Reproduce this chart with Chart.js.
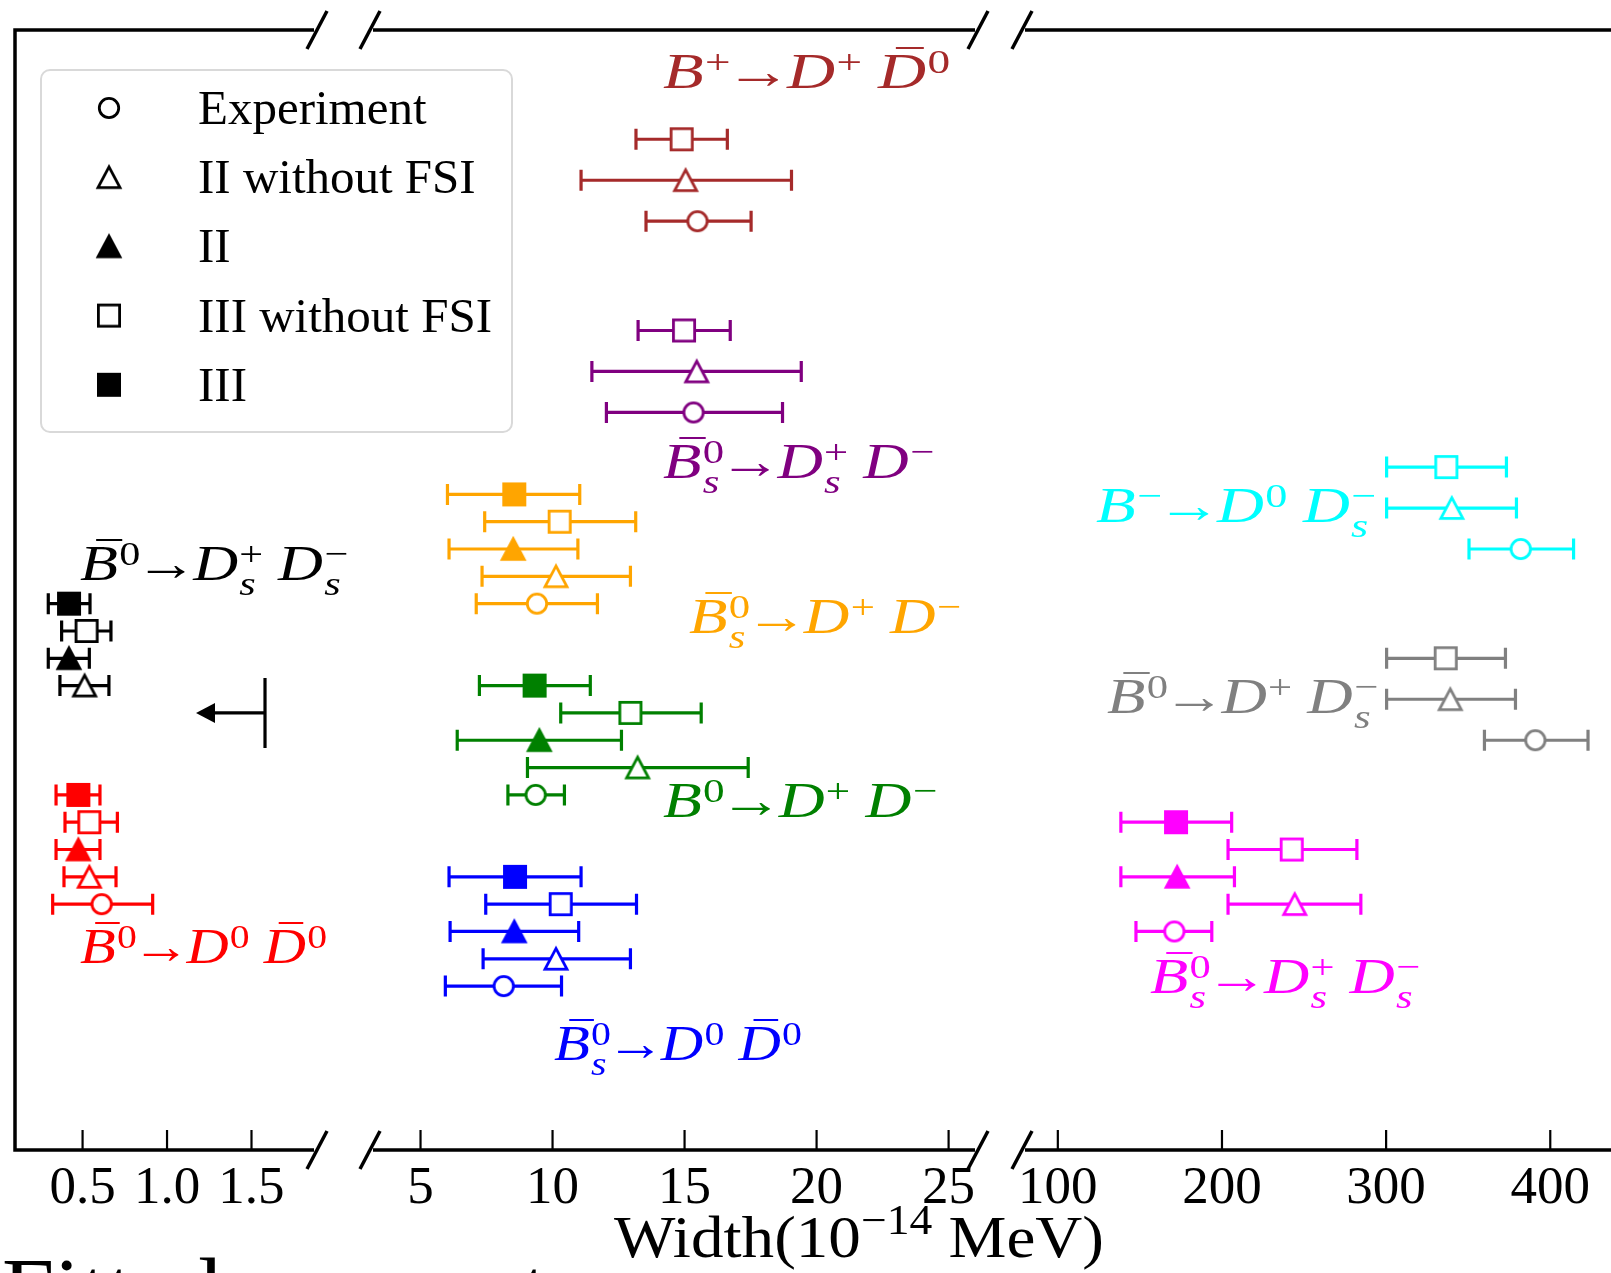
<!DOCTYPE html>
<html>
<head>
<meta charset="utf-8">
<script src="https://cdn.jsdelivr.net/npm/chart.js"></script>
<style>
html,body{margin:0;padding:0;background:#fff;}
#wrap{position:relative;width:1611px;height:1273px;overflow:hidden;background:#fff;}
#wrap canvas{position:absolute;top:0;}
.lab{position:absolute;white-space:nowrap;font-family:"Liberation Serif","Times New Roman",serif;font-size:50px;line-height:1;transform-origin:0 0;}
.b{font-style:italic;position:relative;display:inline-block;}
.bar::before{content:"";position:absolute;left:0.26em;width:0.42em;top:0.01em;border-top:0.05em solid currentColor;}
.ss{display:inline-flex;flex-direction:column;align-items:flex-start;vertical-align:0.45em;font-size:0.68em;line-height:1;margin-left:0.03em;}
.sb{font-style:italic;margin-top:-0.1em;}
.ss + .b{margin-left:0.24em;}
.ar{display:inline-block;margin:0 -0.07em 0 -0.08em;}
.title{font-size:60px;}
.title .sp{display:inline-block;font-size:0.7em;vertical-align:0.55em;}
.cap{font-size:94px;}
</style>
</head>
<body>
<div id="wrap">
<canvas id="c1" width="560" height="1273" style="left:0px"></canvas>
<canvas id="c2" width="682" height="1273" style="left:333px"></canvas>
<canvas id="c3" width="626" height="1273" style="left:985px"></canvas>
</div>
<script>
// ================= DATA =================
const legendLabels = ['Experiment', 'II without FSI', 'II', 'III without FSI', 'III'];
const legendKinds  = ['exp', 'IIw', 'II', 'IIIw', 'III'];

const p1Ticks = [0.5, 1.0, 1.5];
const p1TickLabels = ['0.5', '1.0', '1.5'];
const p2Ticks = [5, 10, 15, 20, 25];
const p2TickLabels = ['5', '10', '15', '20', '25'];
const p3Ticks = [100, 200, 300, 400];
const p3TickLabels = ['100', '200', '300', '400'];

const axisTitle = 'Width(10<span class="sp">\u221214</span> MeV)';
const captionText = 'Fitted parameters';

// B0bar -> Ds+ Ds-  (panel 1)
const bDsDsKinds = ['III', 'IIIw', 'II', 'IIw'];
const bDsDsRow   = [20, 19, 18, 17];
const bDsDsVal   = [0.420, 0.524, 0.419, 0.512];
const bDsDsLo    = [0.297, 0.376, 0.297, 0.366];
const bDsDsHi    = [0.544, 0.668, 0.540, 0.656];
const bDsDsLimit    = [1.58];   // experimental upper limit
const bDsDsLimitRow = [16];

// B0bar -> D0 D0bar  (panel 1)
const bD0D0Kinds = ['III', 'IIIw', 'II', 'IIw', 'exp'];
const bD0D0Row   = [13, 12, 11, 10, 9];
const bD0D0Val   = [0.475, 0.540, 0.475, 0.540, 0.613];
const bD0D0Lo    = [0.343, 0.396, 0.343, 0.390, 0.323];
const bD0D0Hi    = [0.603, 0.706, 0.603, 0.698, 0.915];

// B+ -> D+ D0bar  (panel 2)
const bpKinds = ['IIIw', 'IIw', 'exp'];
const bpRow   = [37, 35.5, 34];
const bpVal   = [14.89, 15.04, 15.49];
const bpLo    = [13.16, 11.08, 13.54];
const bpHi    = [16.62, 19.05, 17.52];

// Bs0bar -> Ds+ D-  (panel 2)
const bsDsDKinds = ['IIIw', 'IIw', 'exp'];
const bsDsDRow   = [30, 28.5, 27];
const bsDsDVal   = [14.98, 15.46, 15.34];
const bsDsDLo    = [13.24, 11.49, 12.04];
const bsDsDHi    = [16.73, 19.42, 18.71];

// Bs0bar -> D+ D-  (panel 2)
const bsDDKinds = ['III', 'IIIw', 'II', 'IIw', 'exp'];
const bsDDRow   = [24, 23, 22, 21, 20];
const bsDDVal   = [8.55, 10.27, 8.51, 10.13, 9.41];
const bsDDLo    = [6.02, 7.43, 6.08, 7.33, 7.11];
const bsDDHi    = [11.03, 13.15, 10.96, 12.95, 11.70];

// B0 -> D+ D-  (panel 2)
const b0DDKinds = ['III', 'IIIw', 'II', 'IIw', 'exp'];
const b0DDRow   = [17, 16, 15, 14, 13];
const b0DDVal   = [9.32, 12.95, 9.50, 13.22, 9.36];
const b0DDLo    = [7.23, 10.31, 6.39, 9.05, 8.31];
const b0DDHi    = [11.43, 15.63, 12.61, 17.41, 10.45];

// Bs0bar -> D0 D0bar  (panel 2)
const bsD0D0Kinds = ['III', 'IIIw', 'II', 'IIw', 'exp'];
const bsD0D0Row   = [10, 9, 8, 7, 6];
const bsD0D0Val   = [8.58, 10.31, 8.55, 10.13, 8.15];
const bsD0D0Lo    = [6.08, 7.47, 6.12, 7.37, 5.94];
const bsD0D0Hi    = [11.08, 13.18, 10.99, 12.95, 10.34];

// B- -> D0 Ds-  (panel 3)
const bmKinds = ['IIIw', 'IIw', 'exp'];
const bmRow   = [25, 23.5, 22];
const bmVal   = [336.7, 340.0, 382.0];
const bmLo    = [300.3, 300.3, 350.5];
const bmHi    = [373.3, 379.4, 414.2];

// B0bar -> D+ Ds-  (panel 3)
const bDDsKinds = ['IIIw', 'IIw', 'exp'];
const bDDsRow   = [18, 16.5, 15];
const bDDsVal   = [336.3, 339.1, 390.9];
const bDDsLo    = [300.3, 300.3, 359.9];
const bDDsHi    = [372.7, 378.8, 423.0];

// Bs0bar -> Ds+ Ds-  (panel 3)
const bsDsDsKinds = ['III', 'IIIw', 'II', 'IIw', 'exp'];
const bsDsDsRow   = [12, 11, 10, 9, 8];
const bsDsDsVal   = [172.0, 242.5, 172.7, 244.3, 171.0];
const bsDsDsLo    = [138.4, 203.7, 138.4, 203.7, 147.6];
const bsDsDsHi    = [205.9, 282.2, 207.6, 284.6, 193.8];

// ================= STRUCTURE / STYLE =================
const S = (b, bar, sup, sub) => ({b, bar, sup, sub});
const AR = '\u2192';
const processes = [
  {panel:0, color:'#000000', kinds:bDsDsKinds, row:bDsDsRow, val:bDsDsVal, lo:bDsDsLo, hi:bDsDsHi, limit:bDsDsLimit, limitRow:bDsDsLimitRow,
   label:[S('B',1,'0'), AR, S('D',0,'+','s'), S('D',0,'\u2212','s')]},
  {panel:0, color:'#ff0000', kinds:bD0D0Kinds, row:bD0D0Row, val:bD0D0Val, lo:bD0D0Lo, hi:bD0D0Hi,
   label:[S('B',1,'0'), AR, S('D',0,'0'), S('D',1,'0')]},
  {panel:1, color:'#a52a2a', kinds:bpKinds, row:bpRow, val:bpVal, lo:bpLo, hi:bpHi,
   label:[S('B',0,'+'), AR, S('D',0,'+'), S('D',1,'0')]},
  {panel:1, color:'#800080', kinds:bsDsDKinds, row:bsDsDRow, val:bsDsDVal, lo:bsDsDLo, hi:bsDsDHi,
   label:[S('B',1,'0','s'), AR, S('D',0,'+','s'), S('D',0,'\u2212')]},
  {panel:1, color:'#ffa500', kinds:bsDDKinds, row:bsDDRow, val:bsDDVal, lo:bsDDLo, hi:bsDDHi,
   label:[S('B',1,'0','s'), AR, S('D',0,'+'), S('D',0,'\u2212')]},
  {panel:1, color:'#008000', kinds:b0DDKinds, row:b0DDRow, val:b0DDVal, lo:b0DDLo, hi:b0DDHi,
   label:[S('B',0,'0'), AR, S('D',0,'+'), S('D',0,'\u2212')]},
  {panel:1, color:'#0000ff', kinds:bsD0D0Kinds, row:bsD0D0Row, val:bsD0D0Val, lo:bsD0D0Lo, hi:bsD0D0Hi,
   label:[S('B',1,'0','s'), AR, S('D',0,'0'), S('D',1,'0')]},
  {panel:2, color:'#00ffff', kinds:bmKinds, row:bmRow, val:bmVal, lo:bmLo, hi:bmHi,
   label:[S('B',0,'\u2212'), AR, S('D',0,'0'), S('D',0,'\u2212','s')]},
  {panel:2, color:'#808080', kinds:bDDsKinds, row:bDDsRow, val:bDDsVal, lo:bDDsLo, hi:bDDsHi,
   label:[S('B',1,'0'), AR, S('D',0,'+'), S('D',0,'\u2212','s')]},
  {panel:2, color:'#ff00ff', kinds:bsDsDsKinds, row:bsDsDsRow, val:bsDsDsVal, lo:bsDsDsLo, hi:bsDsDsHi,
   label:[S('B',1,'0','s'), AR, S('D',0,'+','s'), S('D',0,'\u2212','s')]},
];
// label placement (left, baseline, right) in page pixels
const labelPlace = [
  {left:80,   base:580,  right:348},
  {left:80,   base:963,  right:327},
  {left:663,  base:88,   right:950},
  {left:663,  base:478,  right:934},
  {left:689,  base:633,  right:961},
  {left:663,  base:817,  right:937},
  {left:554,  base:1060, right:802},
  {left:1096, base:522,  right:1376},
  {left:1107, base:713,  right:1378},
  {left:1150, base:993,  right:1420},
];

// ---------- marker images ----------
const markerCache = {};
function marker(kind, color) {
  const key = kind + color;
  if (markerCache[key]) return markerCache[key];
  const N = 36, m = N / 2;
  const c = document.createElement('canvas'); c.width = N; c.height = N;
  const g = c.getContext('2d');
  g.lineWidth = 2.8; g.strokeStyle = color; g.lineJoin = 'miter';
  g.fillStyle = (kind === 'III' || kind === 'II') ? color : '#ffffff';
  g.beginPath();
  if (kind === 'III' || kind === 'IIIw') {
    g.rect(m - 10.6, m - 10.6, 21.2, 21.2);
  } else if (kind === 'II' || kind === 'IIw') {
    g.moveTo(m, m - 10.3); g.lineTo(m + 11, m + 10.3); g.lineTo(m - 11, m + 10.3); g.closePath();
  } else {
    g.arc(m, m, 9.7, 0, Math.PI * 2);
  }
  g.fill(); g.stroke();
  markerCache[key] = c;
  return c;
}

// ---------- plugins ----------
const errorBars = {
  id: 'errorBars',
  beforeDatasetsDraw(chart) {
    const ctx = chart.ctx, xs = chart.scales.x, ys = chart.scales.y;
    chart.data.datasets.forEach(d => {
      ctx.save();
      ctx.strokeStyle = d.errColor; ctx.fillStyle = d.errColor; ctx.lineWidth = 3.2; ctx.lineCap = 'butt';
      d.data.forEach((p, i) => {
        const y = ys.getPixelForValue(p.y);
        const x0 = xs.getPixelForValue(d.errLo[i]), x1 = xs.getPixelForValue(d.errHi[i]);
        ctx.beginPath();
        ctx.moveTo(x0, y); ctx.lineTo(x1, y);
        ctx.moveTo(x0, y - 10.5); ctx.lineTo(x0, y + 10.5);
        ctx.moveTo(x1, y - 10.5); ctx.lineTo(x1, y + 10.5);
        ctx.stroke();
      });
      if (d.limit) {
        d.limit.forEach((v, i) => {
          const x = xs.getPixelForValue(v), y = ys.getPixelForValue(d.limitRow[i]);
          ctx.beginPath();
          ctx.moveTo(x, y - 35); ctx.lineTo(x, y + 35);
          ctx.moveTo(x, y); ctx.lineTo(x - 52, y);
          ctx.stroke();
          ctx.beginPath();
          ctx.moveTo(x - 69, y); ctx.lineTo(x - 50, y - 10); ctx.lineTo(x - 50, y + 10); ctx.closePath();
          ctx.fill();
        });
      }
      ctx.restore();
    });
  }
};

const frame = {
  id: 'frame',
  afterDraw(chart, args, opts) {
    const ctx = chart.ctx, a = chart.chartArea, xs = chart.scales.x;
    ctx.save();
    ctx.strokeStyle = '#000'; ctx.lineWidth = 3.5; ctx.lineJoin = 'miter'; ctx.lineCap = 'butt';
    ctx.beginPath();
    if (opts.leftSpine) {
      ctx.moveTo(a.right, a.top); ctx.lineTo(a.left, a.top); ctx.lineTo(a.left, a.bottom); ctx.lineTo(a.right, a.bottom);
    } else {
      ctx.moveTo(a.left, a.top); ctx.lineTo(a.right, a.top);
      ctx.moveTo(a.left, a.bottom); ctx.lineTo(a.right, a.bottom);
    }
    ctx.stroke();
    ctx.lineWidth = 2.2;
    xs.ticks.forEach(t => {
      const px = xs.getPixelForValue(t.value);
      ctx.beginPath(); ctx.moveTo(px, a.bottom); ctx.lineTo(px, a.bottom - 20); ctx.stroke();
    });
    ctx.lineWidth = 3.5;
    const slash = (x, y) => { ctx.beginPath(); ctx.moveTo(x - 10, y + 19); ctx.lineTo(x + 10, y - 19); ctx.stroke(); };
    if (opts.breakLeft)  { slash(a.left - 3, a.top);  slash(a.left - 3, a.bottom); }
    if (opts.breakRight) { slash(a.right + 3, a.top); slash(a.right + 3, a.bottom); }
    ctx.restore();
  }
};

const legendBox = {
  id: 'legendBox',
  afterDraw(chart) {
    const ctx = chart.ctx;
    ctx.save();
    const x = 41, y = 70, w = 471, h = 362, r = 9;
    ctx.beginPath();
    ctx.moveTo(x + r, y); ctx.arcTo(x + w, y, x + w, y + h, r); ctx.arcTo(x + w, y + h, x, y + h, r);
    ctx.arcTo(x, y + h, x, y, r); ctx.arcTo(x, y, x + w, y, r); ctx.closePath();
    ctx.fillStyle = 'rgba(255,255,255,0.85)'; ctx.fill();
    ctx.strokeStyle = '#d9d9d9'; ctx.lineWidth = 2; ctx.stroke();
    ctx.fillStyle = '#000'; ctx.font = '49px "Liberation Serif", serif'; ctx.textBaseline = 'alphabetic';
    legendKinds.forEach((k, i) => {
      const cy = 108 + i * 69.2;
      ctx.drawImage(marker(k, '#000000'), 109 - 18, cy - 18);
      ctx.fillText(legendLabels[i], 198, cy + 16);
    });
    ctx.restore();
  }
};

// ---------- charts ----------
function makeChart(id, panel, pad, xmin, xmax, ticks, tickLabels, frameOpts, extra) {
  const datasets = processes.filter(p => p.panel === panel).map(p => ({
    data: p.val.map((v, i) => ({x: v, y: p.row[i]})),
    pointStyle: p.kinds.map(k => marker(k, p.color)),
    pointRadius: 5, showLine: false,
    errLo: p.lo, errHi: p.hi, errColor: p.color,
    limit: p.limit, limitRow: p.limitRow,
  }));
  return new Chart(document.getElementById(id), {
    type: 'scatter',
    data: {datasets},
    plugins: [errorBars, frame].concat(extra || []),
    options: {
      responsive: false, animation: false, events: [],
      layout: {autoPadding: false, padding: {left: pad[0], right: pad[1], top: 30, bottom: 63}},
      plugins: {legend: {display: false}, tooltip: {enabled: false}, frame: frameOpts},
      scales: {
        x: {
          type: 'linear', position: 'bottom', min: xmin, max: xmax,
          grid: {display: false, drawTicks: false}, border: {display: false},
          ticks: {font: {family: '"Liberation Serif", serif', size: 53}, color: '#000', padding: 7,
                  maxRotation: 0, autoSkip: false, callback: (v, i) => tickLabels[i]},
          afterBuildTicks: s => { s.ticks = ticks.map(v => ({value: v})); },
          afterFit: s => { s.height = 60; s.paddingLeft = 0; s.paddingRight = 0; }
        },
        y: {type: 'linear', min: 0, max: 41, display: false}
      }
    }
  });
}

makeChart('c1', 0, [15, 246], 0.1, 1.87, p1Ticks, p1TickLabels, {leftSpine: true, breakRight: true}, [legendBox]);
makeChart('c2', 1, [40, 40], 3.2, 26, p2Ticks, p2TickLabels, {breakLeft: true, breakRight: true});
makeChart('c3', 2, [40, 0], 80, 437, p3Ticks, p3TickLabels, {breakLeft: true});

// ---------- text overlays ----------
const wrap = document.getElementById('wrap');
function symHTML(t) {
  if (typeof t === 'string') return '<span class="ar">' + t + '</span>';
  let h = '<span class="b' + (t.bar ? ' bar' : '') + '">' + t.b + '</span>';
  if (t.sup || t.sub) {
    h += '<span class="ss"><span>' + (t.sup || '\u00a0') + '</span>' + (t.sub ? '<span class="sb">' + t.sub + '</span>' : '') + '</span>';
  }
  return h;
}
function place(html, cls, color, pl) {
  const d = document.createElement('div');
  d.className = 'lab ' + cls; d.style.color = color; d.innerHTML = html;
  d.style.left = pl.left + 'px'; d.style.top = '0px';
  const probe = document.createElement('span');
  probe.style.cssText = 'display:inline-block;width:0;height:0;vertical-align:baseline;';
  d.appendChild(probe);
  wrap.appendChild(d);
  const dr = d.getBoundingClientRect(), pr = probe.getBoundingClientRect();
  d.style.top = (pl.base - (pr.bottom - dr.top)) + 'px';
  if (pl.right) d.style.transform = 'scaleX(' + ((pl.right - pl.left) / dr.width) + ')';
}
processes.forEach((p, i) => place(p.label.map(symHTML).join(''), '', p.color, labelPlace[i]));
place(axisTitle, 'title', '#000', {left: 614, base: 1257, right: 1104});
place(captionText, 'cap', '#000', {left: 2, base: 1322});
</script>
</body>
</html>
